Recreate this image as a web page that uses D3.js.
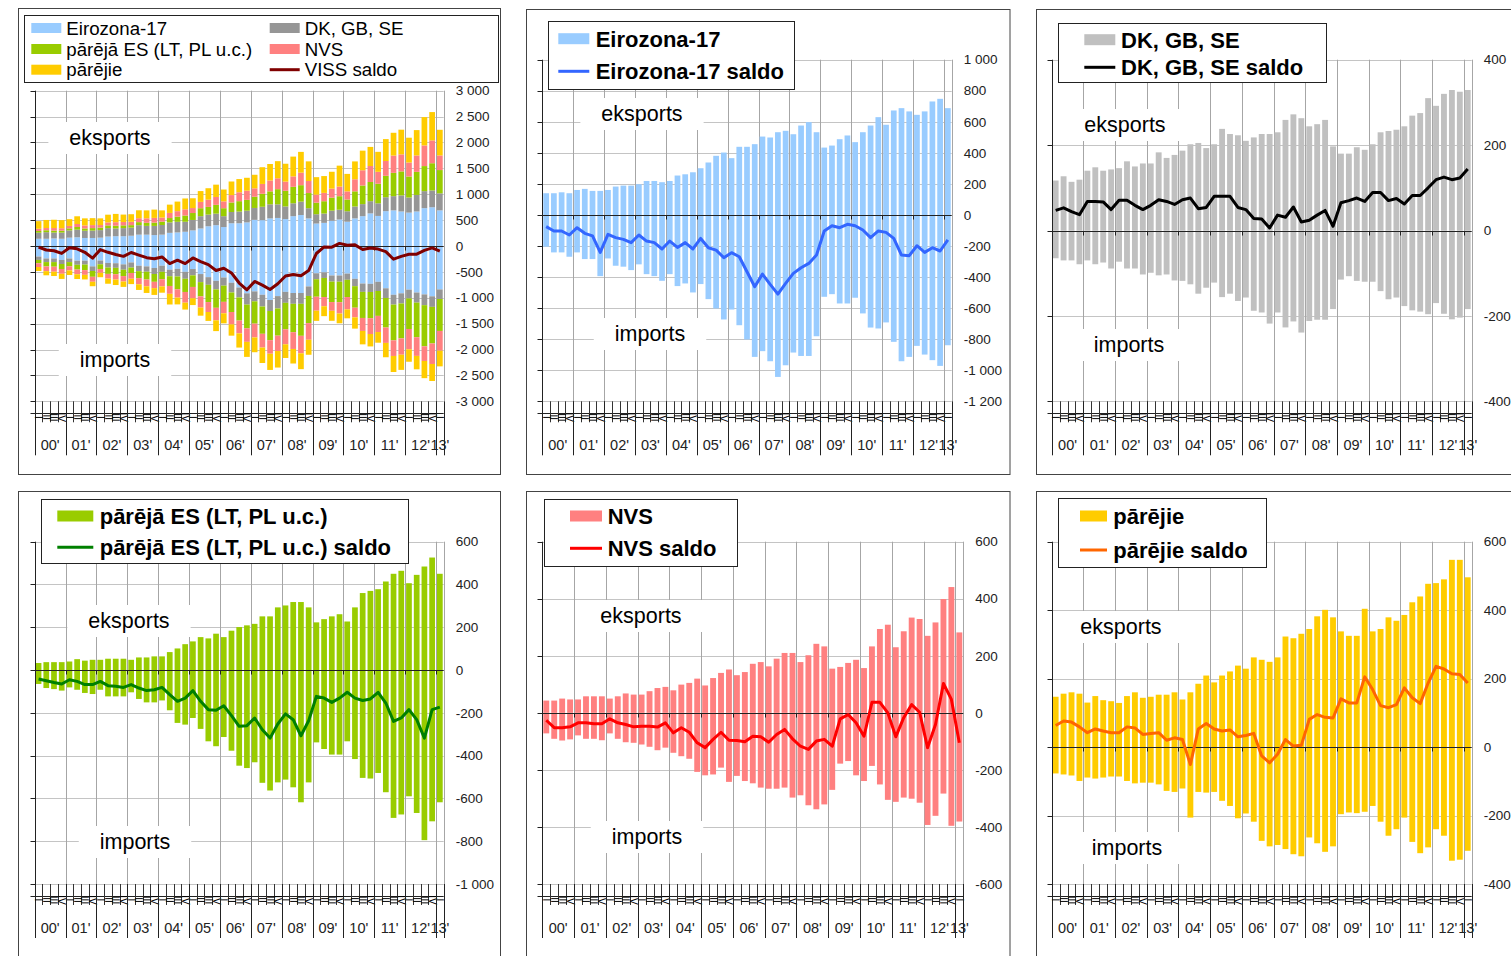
<!DOCTYPE html>
<meta charset="utf-8">
<style>
body {
    margin: 0px;
    background: #fff;
    overflow: hidden;
}
svg {
    display: block;
    font-family: "Liberation Sans", Arial, sans-serif;
}
</style>
<body>
<script src="https://d3js.org/d3.v7.min.js"></script>
<script>
// categories: quarters 2000 Q1 .. 2013 Q1
var years = ["00'", "01'", "02'", "03'", "04'", "05'", "06'", "07'", "08'", "09'", "10'", "11'", "12'", "13'"];
var quarterNames = ["I", "II", "III", "IV"];
var categories = years.flatMap(function(y) {
    return quarterNames.map(function(q) { return y + " " + q; });
}).slice(0, 53);

// Eirozona-17
var ezExp = [140,140,146,140, 161,168,155,155, 161,183,189,189, 198,219,219,211, 219,254,262,275, 301,338,381,402,
             366,439,439,456, 505,499,533,542, 520,576,598,533, 434,447,488,512, 469,533,576,630, 581,673,688,667,
             645,667,731,748, 688];
var ezImp = [-204,-241,-241,-269, -241,-284,-284,-394, -280,-327,-333,-355, -318,-381,-394,-424, -381,-458,-441,-499,
             -445,-542,-602,-673, -609,-710,-802,-914, -877,-942,-1043,-968, -886,-908,-908,-781, -527,-510,-570,-570,
             -533,-634,-725,-731, -692,-817,-942,-914, -843,-899,-935,-972, -839];
var ezSaldo = [-75,-103,-103,-129, -82,-118,-135,-241, -125,-146,-157,-178, -129,-168,-178,-219, -168,-209,-178,-219,
               -151,-211,-226,-275, -243,-269,-366,-462, -381,-447,-510,-441, -376,-340,-312,-258, -103,-69,-82,-60,
               -69,-97,-146,-103, -112,-151,-258,-262, -198,-241,-211,-232, -161];

// DK, GB, SE
var dkExp = [117,127,114,119, 140,148,140,143, 146,162,150,157, 157,183,170,177, 187,202,205,193, 202,238,226,223,
             210,218,226,226, 230,259,272,263, 244,249,259,197, 180,180,195,189, 202,230,233,236, 244,269,275,310,
             292,320,329,325, 329];
var dkImp = [-65,-70,-70,-79, -70,-79,-75,-89, -73,-89,-89,-103, -99,-105,-103,-117, -118,-126,-148,-134,
             -122,-156,-148,-165, -157,-188,-192,-218, -192,-227,-213,-239, -212,-209,-209,-184, -115,-107,-118,-120,
             -120,-142,-161,-157, -177,-187,-190,-196, -170,-195,-208,-204, -184];
var dkSaldo = [47,53,44,37, 68,68,67,49, 71,71,59,49, 59,72,68,61, 72,76,51,54, 80,80,80,54,
               49,28,27,6, 36,31,55,20, 24,36,47,10, 65,70,76,68, 89,89,70,75, 62,82,82,100,
               119,125,119,123, 144];

// pārējā ES (LT, PL u.c.)
var esExp = [33,37,37,37, 40,51,44,48, 48,53,53,53, 48,59,59,64, 64,84,101,121, 134,154,148,170,
             154,184,201,209, 216,251,251,293, 302,318,318,293, 223,238,251,261, 227,293,360,370, 378,414,450,464,
             406,445,484,526, 450];
var esImp = [-65,-84,-89,-96, -81,-92,-107,-112, -92,-123,-123,-123, -104,-135,-151,-151, -142,-188,-247,-255,
             -224,-275,-333,-356, -313,-377,-447,-458, -431,-527,-563,-525, -512,-548,-618,-525, -338,-369,-395,-395,
             -333,-416,-504,-507, -481,-571,-691,-675, -590,-668,-795,-707, -618];
var esSaldo = [-42,-50,-58,-65, -45,-53,-68,-68, -53,-73,-76,-81, -68,-84,-96,-92, -81,-115,-146,-131,
               -96,-146,-185,-188, -167,-213,-263,-260, -224,-279,-318,-252, -205,-232,-307,-237, -123,-131,-151,-131,
               -104,-131,-142,-135, -104,-154,-240,-224, -185,-232,-318,-185, -173];

// NVS
var nvsExp = [43,43,50,47, 47,58,58,58, 50,58,68,64, 64,76,87,91, 79,99,105,120, 96,122,140,152,
              132,143,172,178, 163,190,210,210, 178,202,242,233, 155,161,175,186, 157,233,294,309, 230,286,334,329,
              270,317,399,441, 282];
var nvsImp = [-72,-91,-97,-93, -79,-91,-91,-96, -72,-91,-103,-105, -111,-119,-131,-122, -140,-152,-161,-207,
              -219,-216,-192,-242, -221,-239,-247,-262, -266,-266,-262,-297, -289,-324,-338,-321, -270,-178,-169,-219,
              -239,-186,-251,-305, -312,-297,-301,-315, -393,-361,-283,-396, -381];
var nvsSaldo = [-26,-52,-52,-49, -35,-35,-38,-38, -21,-35,-41,-49, -47,-47,-50,-35, -70,-52,-68,-105,
                -122,-93,-68,-96, -97,-101,-82,-84, -103,-76,-58,-91, -117,-128,-99,-93, -117,-21,-6,-35,
                -82,37,37,0, -84,-17,29,2, -122,-41,103,47, -105];

// pārējie
var othExp = [147,156,160,156, 130,149,137,134, 129,149,160,144, 147,153,153,160, 139,160,185,209, 189,209,221,238,
              229,262,255,249, 262,323,318,331, 345,382,401,379, 338,325,325,404, 338,345,379,369, 386,423,440,477,
              479,490,547,547, 496];
var othImp = [-77,-80,-83,-99, -89,-92,-89,-86, -86,-99,-106,-104, -104,-109,-128,-131, -121,-206,-131,-133,
              -131,-157,-172,-208, -194,-218,-274,-290, -286,-298,-313,-319, -264,-281,-306,-290, -196,-191,-193,-189,
              -172,-218,-259,-240, -206,-277,-310,-293, -240,-259,-332,-329, -303];
var othSaldo = [63,76,73,59, 42,53,47,42, 42,59,56,37, 40,42,20,27, 22,-51,53,69, 53,47,50,30,
                34,40,-26,-46, -21,22,3,5, 81,95,87,85, 141,129,129,205, 168,121,115,124, 173,144,127,187,
                236,228,214,212, 187];

// VISS saldo
var totalSaldo = [-20,-77,-92,-143, -35,-55,-122,-235, -70,-122,-165,-200, -125,-175,-225,-245, -212,-340,-275,-340,
                  -231,-300,-360,-474, -430,-520,-715,-846, -685,-755,-840,-730, -580,-550,-575,-475, -145,-18,-22,50,
                  15,22,-68,-38, -60,-110,-255,-200, -160,-158,-85,-37, -98];

var stackKeys = ["ez", "dk", "es", "nvs", "oth"];
var stackColors = {ez: "#99CCFF", dk: "#969696", es: "#99CC00", nvs: "#FF8080", oth: "#FFCC00"};

var W = 1511, H = 956;
var svg = d3.select("body").append("svg")
    .attr("width", W)
    .attr("height", H);

var fmt = function(v) {
    return (v < 0 ? "-" : "") + d3.format(",")(Math.abs(v)).replace(/,/g, " ");
};

// outer frames of the six charts
[[18.5, 8.5, 482, 466], [526.5, 9.5, 483.5, 465], [1036.5, 9.5, 500, 465],
 [18.5, 491.5, 482, 500], [526.5, 491.5, 483.5, 500], [1036.5, 491.5, 500, 500]].forEach(function(f) {
    svg.append("rect").attr("x", f[0]).attr("y", f[1]).attr("width", f[2]).attr("height", f[3])
        .attr("fill", "none").attr("stroke", "#444");
});

var panels = [
    {x0: 34.7, x1: 443.7, yt: 90.7, yb: 401.3, dom: [-3000, 3000], tick: 500, stacked: true,
     saldo: totalSaldo, line: "#800000", eks: [110, 145], imps: [115, 367],
     legend: {box: [23.7, 15.3, 498, 82], font: 18.7, bold: false, sw: 30, sh: 10, items: [
        {kind: "rect", color: "#99CCFF", label: "Eirozona-17", x: 31.3, tx: 66.3, y: 28},
        {kind: "rect", color: "#99CC00", label: "pārējā ES (LT, PL u.c.)", x: 31.3, tx: 66.3, y: 49},
        {kind: "rect", color: "#FFCC00", label: "pārējie", x: 31.3, tx: 66.3, y: 69.7},
        {kind: "rect", color: "#969696", label: "DK, GB, SE", x: 269.7, tx: 304.7, y: 28},
        {kind: "rect", color: "#FF8080", label: "NVS", x: 269.7, tx: 304.7, y: 49},
        {kind: "line", color: "#800000", label: "VISS saldo", x: 269.7, tx: 304.7, y: 69.7}]}},
    {x0: 542.3, x1: 951.7, yt: 59.7, yb: 401.3, dom: [-1200, 1000], tick: 200,
     exp: ezExp, imp: ezImp, fill: "#99CCFF", saldo: ezSaldo, line: "#3366FF", eks: [642, 121], imps: [650, 341],
     legend: {box: [547.7, 20.7, 793.3, 89], font: 22, bold: true, sw: 31, sh: 11, items: [
        {kind: "rect", color: "#99CCFF", label: "Eirozona-17", x: 558.3, tx: 595.7, y: 38.7},
        {kind: "line", color: "#3366FF", label: "Eirozona-17 saldo", x: 558.3, tx: 595.7, y: 71.3}]}},
    {x0: 1051.7, x1: 1471.7, yt: 59.7, yb: 401.3, dom: [-400, 400], tick: 200,
     exp: dkExp, imp: dkImp, fill: "#C0C0C0", saldo: dkSaldo, line: "#000000", eks: [1125, 132], imps: [1129, 352],
     legend: {box: [1057.7, 23, 1325.7, 82], font: 22, bold: true, sw: 31, sh: 11, items: [
        {kind: "rect", color: "#C0C0C0", label: "DK, GB, SE", x: 1084.3, tx: 1121, y: 39.7},
        {kind: "line", color: "#000000", label: "DK, GB, SE saldo", x: 1084.3, tx: 1121, y: 67.3}]}},
    {x0: 34.7, x1: 443.7, yt: 541.7, yb: 884, dom: [-1000, 600], tick: 200,
     exp: esExp, imp: esImp, fill: "#99CC00", saldo: esSaldo, line: "#008000", eks: [129, 628], imps: [135, 849],
     legend: {box: [40.7, 499, 408, 563.3], font: 22, bold: true, sw: 36, sh: 11, items: [
        {kind: "rect", color: "#99CC00", label: "pārējā ES (LT, PL u.c.)", x: 57.3, tx: 99.7, y: 516},
        {kind: "line", color: "#008000", label: "pārējā ES (LT, PL u.c.) saldo", x: 57.3, tx: 99.7, y: 547.3}]}},
    {x0: 542.3, x1: 963.3, yt: 541.7, yb: 884, dom: [-600, 600], tick: 200,
     exp: nvsExp, imp: nvsImp, fill: "#FF8080", saldo: nvsSaldo, line: "#FF0000", eks: [641, 623], imps: [647, 844],
     legend: {box: [544.3, 499, 737.7, 566], font: 22, bold: true, sw: 32, sh: 11, items: [
        {kind: "rect", color: "#FF8080", label: "NVS", x: 570, tx: 607.7, y: 516},
        {kind: "line", color: "#FF0000", label: "NVS saldo", x: 570, tx: 607.7, y: 548.3}]}},
    {x0: 1051.7, x1: 1471.7, yt: 541.7, yb: 884, dom: [-400, 600], tick: 200,
     exp: othExp, imp: othImp, fill: "#FFCC00", saldo: othSaldo, line: "#FF6600", eks: [1121, 634], imps: [1127, 855],
     legend: {box: [1058.3, 498.3, 1266.7, 567.3], font: 22, bold: true, sw: 27, sh: 11, items: [
        {kind: "rect", color: "#FFCC00", label: "pārējie", x: 1080, tx: 1113.3, y: 516},
        {kind: "line", color: "#FF6600", label: "pārējie saldo", x: 1080, tx: 1113.3, y: 550}]}}
];

function drawPanel(p) {
    var g = svg.append("g");
    var x = d3.scaleBand().domain(d3.range(categories.length)).range([p.x0, p.x1])
        .paddingInner(0.26).paddingOuter(0.13);
    var y = d3.scaleLinear().domain(p.dom).range([p.yb, p.yt]);
    var step = x.step();
    var ticks = d3.range(p.dom[0], p.dom[1] + 1, p.tick);
    var yearX = d3.range(1, years.length).map(function(k) { return p.x0 + 4 * k * step; });

    // gridlines
    g.selectAll(".hg").data(ticks).enter().append("line")
        .attr("x1", p.x0).attr("x2", p.x1)
        .attr("y1", function(d) { return Math.round(y(d)) + 0.5; })
        .attr("y2", function(d) { return Math.round(y(d)) + 0.5; })
        .attr("stroke", "#c4c4c4");
    g.selectAll(".vg").data(yearX.concat([p.x1])).enter().append("line")
        .attr("x1", function(d) { return Math.round(d) + 0.5; })
        .attr("x2", function(d) { return Math.round(d) + 0.5; })
        .attr("y1", p.yt).attr("y2", p.yb)
        .attr("stroke", "#a6a6a6");

    // eksports / imports labels on white patches
    [["eksports", p.eks], ["imports", p.imps]].forEach(function(l) {
        var t = g.append("text").attr("x", l[1][0]).attr("y", l[1][1])
            .attr("text-anchor", "middle").attr("font-size", 21.5).attr("fill", "#000").text(l[0]);
        var b = t.node().getBBox();
        g.insert("rect", "text").attr("x", b.x - 21).attr("y", b.y - 4)
            .attr("width", b.width + 42).attr("height", b.height + 8).attr("fill", "#fff");
    });

    // bars
    if (p.stacked) {
        var rowsE = categories.map(function(c, i) {
            return {i: i, ez: ezExp[i], dk: dkExp[i], es: esExp[i], nvs: nvsExp[i], oth: othExp[i]};
        });
        var rowsI = categories.map(function(c, i) {
            return {i: i, ez: ezImp[i], dk: dkImp[i], es: esImp[i], nvs: nvsImp[i], oth: othImp[i]};
        });
        var stack = d3.stack().keys(stackKeys).offset(d3.stackOffsetDiverging);
        [stack(rowsE), stack(rowsI)].forEach(function(series) {
            series.forEach(function(s) {
                g.selectAll(null).data(s).enter().append("rect")
                    .attr("x", function(d) { return x(d.data.i); })
                    .attr("width", x.bandwidth())
                    .attr("y", function(d) { return y(Math.max(d[0], d[1])); })
                    .attr("height", function(d) { return Math.abs(y(d[0]) - y(d[1])); })
                    .attr("fill", stackColors[s.key]);
            });
        });
    } else {
        [p.exp, p.imp].forEach(function(vals) {
            g.selectAll(null).data(vals).enter().append("rect")
                .attr("x", function(d, i) { return x(i); })
                .attr("width", x.bandwidth())
                .attr("y", function(d) { return y(Math.max(0, d)); })
                .attr("height", function(d) { return Math.abs(y(d) - y(0)); })
                .attr("fill", p.fill);
        });
    }

    // zero line
    var y0 = Math.round(y(0)) + 0.5;
    g.append("line").attr("x1", p.x0).attr("x2", p.x1).attr("y1", y0).attr("y2", y0)
        .attr("stroke", "#222");
    g.selectAll(".zt").data(yearX).enter().append("line")
        .attr("x1", function(d) { return Math.round(d) + 0.5; })
        .attr("x2", function(d) { return Math.round(d) + 0.5; })
        .attr("y1", y0).attr("y2", y0 + 4).attr("stroke", "#222");

    // left axis with ticks
    var ax = Math.round(p.x0) + 0.5;
    g.append("line").attr("x1", ax).attr("x2", ax).attr("y1", p.yt).attr("y2", p.yb + 54)
        .attr("stroke", "#222");
    g.selectAll(".lt").data(ticks).enter().append("line")
        .attr("x1", ax - 5).attr("x2", ax)
        .attr("y1", function(d) { return Math.round(y(d)) + 0.5; })
        .attr("y2", function(d) { return Math.round(y(d)) + 0.5; })
        .attr("stroke", "#222");

    // right value labels
    g.selectAll(".tl").data(ticks).enter().append("text")
        .attr("x", p.x1 + 12).attr("y", function(d) { return y(d); })
        .attr("dy", "0.35em").attr("font-size", 13.5).attr("fill", "#222")
        .text(fmt);

    // category area
    var cy = Math.round(p.yb + 12) + 0.5;
    g.append("line").attr("x1", ax - 5).attr("x2", p.x1).attr("y1", cy).attr("y2", cy)
        .attr("stroke", "#222");
    g.selectAll(".qt").data(d3.range(1, categories.length)).enter().append("line")
        .attr("x1", function(i) { return Math.round(p.x0 + i * step) + 0.5; })
        .attr("x2", function(i) { return Math.round(p.x0 + i * step) + 0.5; })
        .attr("y1", p.yb).attr("y2", p.yb + 21).attr("stroke", "#333");
    g.selectAll(".ql").data(categories).enter().append("text")
        .attr("transform", function(c, i) {
            return "translate(" + (x(i) + x.bandwidth() / 2) + "," + (p.yb + 16) + ") rotate(90)";
        })
        .attr("text-anchor", "middle").attr("dy", "0.35em")
        .attr("font-size", 10).attr("fill", "#000")
        .text(function(c) { return c.split(" ")[1]; });
    g.selectAll(".ys").data(yearX.concat([p.x1])).enter().append("line")
        .attr("x1", function(d) { return Math.round(d) + 0.5; })
        .attr("x2", function(d) { return Math.round(d) + 0.5; })
        .attr("y1", p.yb).attr("y2", p.yb + 54).attr("stroke", "#222");
    g.selectAll(".yl").data(years).enter().append("text")
        .attr("x", function(d, k) {
            var n = Math.min(4, categories.length - 4 * k);
            return p.x0 + (4 * k + n / 2) * step;
        })
        .attr("y", p.yb + 44).attr("dy", "0.35em")
        .attr("text-anchor", "middle").attr("font-size", 14.5).attr("fill", "#222")
        .text(function(d) { return d; });

    // saldo line
    var line = d3.line()
        .x(function(d, i) { return x(i) + x.bandwidth() / 2; })
        .y(function(d) { return y(d); });
    g.append("path").datum(p.saldo).attr("d", line)
        .attr("fill", "none").attr("stroke", p.line).attr("stroke-width", 3)
        .attr("stroke-linejoin", "round");

    // legend
    var L = p.legend;
    var lg = svg.append("g");
    lg.append("rect").attr("x", Math.round(L.box[0]) + 0.5).attr("y", Math.round(L.box[1]) + 0.5)
        .attr("width", Math.round(L.box[2] - L.box[0])).attr("height", Math.round(L.box[3] - L.box[1]))
        .attr("fill", "#fff").attr("stroke", "#222");
    L.items.forEach(function(it) {
        if (it.kind === "rect") {
            lg.append("rect").attr("x", it.x).attr("y", it.y - L.sh / 2)
                .attr("width", L.sw).attr("height", L.sh).attr("fill", it.color);
        } else {
            lg.append("line").attr("x1", it.x).attr("x2", it.x + L.sw)
                .attr("y1", it.y).attr("y2", it.y)
                .attr("stroke", it.color).attr("stroke-width", 3);
        }
        lg.append("text").attr("x", it.tx).attr("y", it.y).attr("dy", "0.36em")
            .attr("font-size", L.font).attr("font-weight", L.bold ? "bold" : "normal")
            .attr("fill", "#000").text(it.label);
    });
}

panels.forEach(drawPanel);
</script>
</body>
</html>
